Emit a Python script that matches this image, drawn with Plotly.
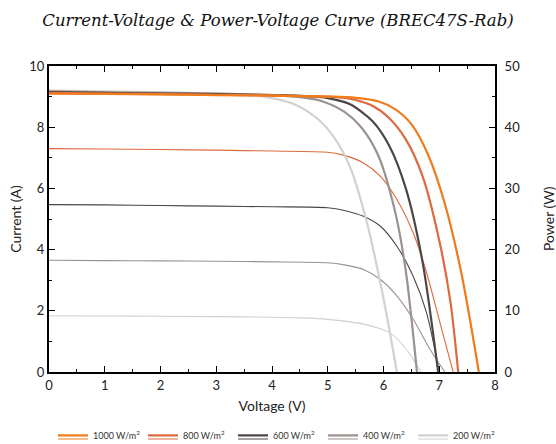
import plotly.graph_objects as go

# ---------------- data ----------------
levels = ["1000 W/m<sup>2</sup>", "800 W/m<sup>2</sup>", "600 W/m<sup>2</sup>",
          "400 W/m<sup>2</sup>", "200 W/m<sup>2</sup>"]
colors = ["#f07c1c", "#dc6a3e", "#4e4644", "#9c928d", "#d4d0cd"]

# thick curves
v_thick_1000 = [0, 1, 2, 3, 4, 5, 5.5, 5.9, 6.2, 6.5, 6.8, 7.1, 7.4, 7.71]
i_thick_1000 = [9.10, 9.09, 9.07, 9.05, 9.03, 9.00, 8.96, 8.85, 8.60, 8.10, 7.10, 5.50, 3.20, 0]
v_thick_800 = [0, 1, 2, 3, 4, 5, 5.4, 5.8, 6.1, 6.4, 6.7, 7.0, 7.2, 7.34]
i_thick_800 = [9.12, 9.10, 9.08, 9.06, 9.04, 9.00, 8.93, 8.70, 8.30, 7.60, 6.40, 4.30, 2.30, 0]
v_thick_600 = [0, 1, 2, 3, 4, 4.6, 5.0, 5.4, 5.8, 6.1, 6.4, 6.7, 6.98]
i_thick_600 = [9.15, 9.12, 9.10, 9.08, 9.05, 9.02, 8.95, 8.75, 8.20, 7.40, 6.00, 3.60, 0]
v_thick_400 = [0, 1, 2, 3, 4, 4.5, 4.9, 5.3, 5.6, 5.9, 6.2, 6.4, 6.6]
i_thick_400 = [9.17, 9.14, 9.12, 9.10, 9.05, 8.98, 8.85, 8.50, 8.00, 7.10, 5.30, 3.30, 0]
v_thick_200 = [0, 1, 2, 3, 3.6, 4.0, 4.4, 4.8, 5.1, 5.4, 5.7, 6.0, 6.24]
i_thick_200 = [9.20, 9.17, 9.14, 9.10, 9.05, 8.95, 8.75, 8.30, 7.70, 6.70, 4.90, 2.40, 0]

# thin curves (the 1000 W/m2 thin curve lies under its thick one)
v_thin_1000 = [0, 1, 2, 3, 4, 5, 5.5, 5.9, 6.2, 6.5, 6.8, 7.1, 7.4, 7.71]
i_thin_1000 = [9.10, 9.09, 9.07, 9.05, 9.03, 9.00, 8.96, 8.85, 8.60, 8.10, 7.10, 5.50, 3.20, 0]
v_thin_800 = [0, 1, 2, 3, 4, 5, 5.3, 5.64, 5.94, 6.24, 6.53, 6.77, 7.01, 7.25]
i_thin_800 = [7.30, 7.29, 7.27, 7.25, 7.22, 7.18, 7.08, 6.83, 6.40, 5.64, 4.56, 3.26, 1.63, 0]
v_thin_600 = [0, 1, 2, 3, 4, 5, 5.3, 5.64, 5.94, 6.24, 6.53, 6.77, 7.0]
i_thin_600 = [5.47, 5.46, 5.44, 5.42, 5.40, 5.37, 5.28, 5.09, 4.77, 4.11, 3.14, 1.95, 0]
v_thin_400 = [0, 1, 2, 3, 4, 5, 5.3, 5.64, 5.94, 6.24, 6.53, 6.83, 7.1]
i_thin_400 = [3.65, 3.64, 3.63, 3.62, 3.60, 3.57, 3.50, 3.35, 3.03, 2.49, 1.73, 0.75, 0]
v_thin_200 = [0, 1, 2, 3, 4, 4.5, 5.0, 5.7, 6.12, 6.42, 6.67]
i_thin_200 = [1.84, 1.83, 1.82, 1.81, 1.79, 1.77, 1.72, 1.54, 1.27, 0.72, 0]

thick = [(v_thick_1000, i_thick_1000), (v_thick_800, i_thick_800), (v_thick_600, i_thick_600),
         (v_thick_400, i_thick_400), (v_thick_200, i_thick_200)]
thin = [(v_thin_1000, i_thin_1000), (v_thin_800, i_thin_800), (v_thin_600, i_thin_600),
        (v_thin_400, i_thin_400), (v_thin_200, i_thin_200)]

x_ticks = [0, 1, 2, 3, 4, 5, 6, 7, 8]
y_ticks = [0, 2, 4, 6, 8, 10]
y2_ticks = [0, 10, 20, 30, 40, 50]

# ---------------- figure ----------------
fig = go.Figure()
# thin curves: their legend (legend2) shows only the thin line under each thick legend symbol
for k in range(len(levels)):
    v, i = thin[k]
    fig.add_trace(go.Scatter(x=v, y=i, mode="lines", name=" ", legend="legend2",
                             legendrank=k + 1, hovertext=levels[k],
                             line=dict(color=colors[k], width=1.1, shape="spline", smoothing=0.8)))
for k in reversed(range(len(levels))):
    v, i = thick[k]
    fig.add_trace(go.Scatter(x=v, y=i, mode="lines", name=levels[k], legend="legend",
                             legendrank=k + 1,
                             line=dict(color=colors[k], width=2.2, shape="spline", smoothing=0.8)))
fig.add_trace(go.Scatter(x=[0], y=[0], yaxis="y2", mode="lines", showlegend=False,
                         line=dict(width=0), hoverinfo="skip"))

axis_font = dict(family="Lato, sans-serif", size=13, color="#222")
title_font = dict(family="Lato, sans-serif", size=14, color="#222")
common = dict(showline=True, linewidth=2, linecolor="black", ticks="inside", ticklen=6,
              tickwidth=1, tickcolor="black", showgrid=False, zeroline=False,
              tickfont=axis_font, automargin=False)

legend_common = dict(orientation="h", x=0.5, xref="container", xanchor="center",
                     yanchor="middle",
                     traceorder="normal", itemwidth=30, bgcolor="rgba(0,0,0,0)",
                     entrywidth=45, entrywidthmode="pixels",
                     itemclick=False, itemdoubleclick=False,
                     font=dict(family="Lato, sans-serif", size=9, color="#333"))

fig.update_layout(
    width=556, height=444,
    margin=dict(l=49, r=61, t=66, b=72, autoexpand=False),
    paper_bgcolor="white", plot_bgcolor="white",
    title=dict(text="Current-Voltage & Power-Voltage Curve (BREC47S-Rab)",
               x=0.5, xanchor="center", xref="container", y=0.955, yanchor="middle",
               font=dict(family="DejaVu Serif", size=16.5, color="#111", style="italic")),
    xaxis=dict(range=[0, 8], tickvals=x_ticks, mirror="ticks",
               minor=dict(dtick=0.5, ticks="inside", ticklen=3, tickcolor="black"),
               title=dict(text="Voltage (V)", font=title_font, standoff=10),
               **common),
    yaxis=dict(range=[0, 10], tickvals=y_ticks, mirror=True,
               minor=dict(dtick=1, ticks="inside", ticklen=3, tickcolor="black"),
               title=dict(text="Current (A)", font=title_font, standoff=4),
               **common),
    yaxis2=dict(range=[0, 50], tickvals=y2_ticks, overlaying="y", side="right",
                minor=dict(dtick=5, ticks="inside", ticklen=3, tickcolor="black"),
                ticklabelstandoff=5,
                **common),
    annotations=[dict(text="Power (W)", textangle=-90, xref="paper", yref="paper",
                      x=1, y=0.5, xanchor="center", yanchor="middle", xshift=53,
                      showarrow=False, font=title_font)],
    legend=dict(y=-0.207, **legend_common),
    legend2=dict(y=-0.219, **legend_common),
    showlegend=True,
)

fig.write_html("out.html", config={"displayModeBar": False},
               post_script="document.body.style.margin='0';document.body.style.overflow='hidden';")
